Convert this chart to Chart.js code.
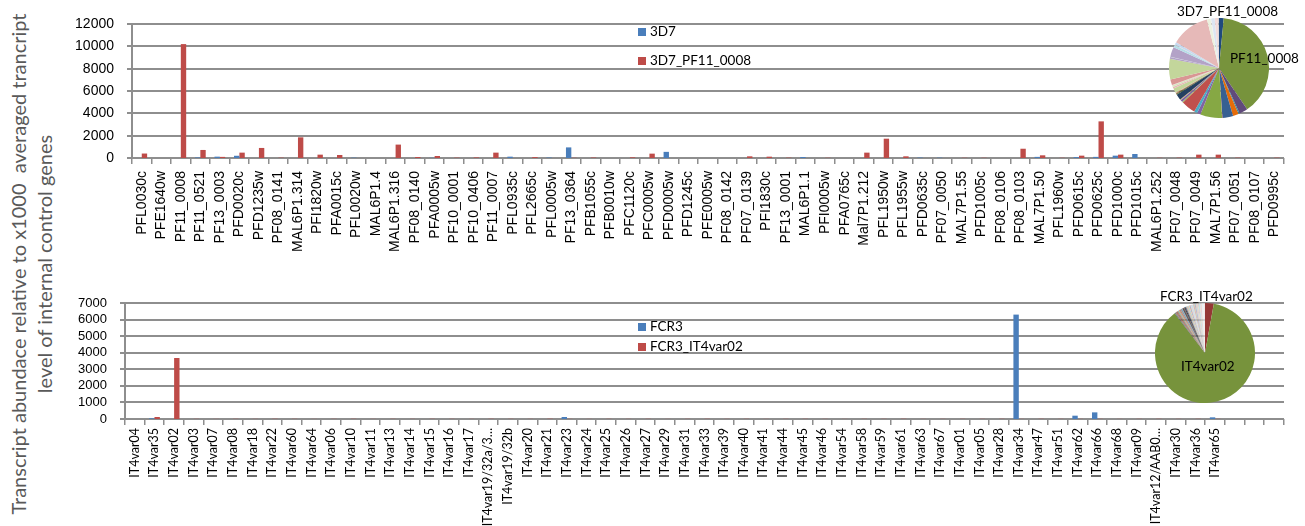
<!DOCTYPE html>
<html>
<head>
<meta charset="utf-8">
<script src="https://cdn.jsdelivr.net/npm/chart.js@4.4.0/dist/chart.umd.min.js"></script>
<style>
  body { margin: 0; background: #fff; width: 1305px; height: 526px; overflow: hidden; position: relative; font-family: Lato, sans-serif; }
  .box { position: absolute; }
  .lg { position: absolute; font: 13.5px Lato, sans-serif; color: #000; white-space: nowrap; line-height: 16px; }
  .lg i { display: inline-block; width: 8px; height: 8px; margin-right: 4px; vertical-align: 0px; }
  .plbl { position: absolute; font: 13.5px Lato, sans-serif; color: #000; white-space: nowrap; }
  #ytitle { position: absolute; left: -237px; top: 236px; width: 540px; height: 56px; transform: rotate(-90deg);
            text-align: center; font: 20px Lato, sans-serif; line-height: 26px; color: #595959; white-space: nowrap; }
</style>
</head>
<body>

<div id="ytitle">Transcript abundace relative to x1000&nbsp; averaged trancript<br>level of internal control genes</div>

<canvas id="topBar" class="box" width="1300" height="262" style="left:0;top:0"></canvas>
<canvas id="botBar" class="box" width="1300" height="264" style="left:0;top:262px"></canvas>
<canvas id="topPie" class="box" width="100" height="100" style="left:1169px;top:18px"></canvas>
<canvas id="botPie" class="box" width="100" height="100" style="left:1155px;top:303px"></canvas>

<div id="legends"></div>

<script>
/* ===========================
   DATA
=========================== */
const topGenes = ["PFL0030c","PFE1640w","PF11_0008","PF11_0521","PF13_0003","PFD0020c","PFD1235w","PF08_0141",
  "MAL6P1.314","PFI1820w","PFA0015c","PFL0020w","MAL6P1.4","MAL6P1.316","PF08_0140","PFA0005w","PF10_0001",
  "PF10_0406","PF11_0007","PFL0935c","PFL2665c","PFL0005w","PF13_0364","PFB1055c","PFB0010w","PFC1120c",
  "PFC0005w","PFD0005w","PFD1245c","PFE0005w","PF08_0142","PF07_0139","PFI1830c","PF13_0001","MAL6P1.1",
  "PFI0005w","PFA0765c","Mal7P1.212","PFL1950w","PFL1955w","PFD0635c","PF07_0050","MAL7P1.55","PFD1005c",
  "PF08_0106","PF08_0103","MAL7P1.50","PFL1960w","PFD0615c","PFD0625c","PFD1000c","PFD1015c","MAL6P1.252",
  "PF07_0048","PF07_0049","MAL7P1.56","PF07_0051","PF08_0107","PFD0995c"];

const top3D7 = [0,0,0,50,120,200,0,0,0,0,0,30,0,0,0,20,0,0,0,120,0,40,950,0,0,0,0,550,0,0,
  0,0,0,0,90,0,0,0,0,0,40,30,0,0,0,0,100,0,80,100,210,360,0,0,0,0,0,0,0];

const top3D7_PF11 = [400,0,10200,720,100,480,900,30,1850,300,270,0,0,1200,90,180,30,50,480,0,
  80,0,20,40,0,60,390,0,0,0,0,150,120,30,0,20,0,480,1730,150,0,0,20,20,0,830,240,20,210,3280,
  300,0,20,30,300,300,30,0,30];

const botGenes = ["IT4var04","IT4var35","IT4var02","IT4var03","IT4var07","IT4var08","IT4var18","IT4var22",
  "IT4var60","IT4var64","IT4var06","IT4var10","IT4var11","IT4var13","IT4var14","IT4var15","IT4var16",
  "IT4var17","IT4var19/32a/3…","IT4var19/32b","IT4var20","IT4var21","IT4var23","IT4var24","IT4var25",
  "IT4var26","IT4var27","IT4var29","IT4var31","IT4var33","IT4var39","IT4var40","IT4var41","IT4var44",
  "IT4var45","IT4var46","IT4var54","IT4var58","IT4var59","IT4var61","IT4var63","IT4var67","IT4var01",
  "IT4var05","IT4var28","IT4var34","IT4var47","IT4var51","IT4var62","IT4var66","IT4var68","IT4var09",
  "IT4var12/AAB0…","IT4var30","IT4var36","IT4var65","","",""];

const botFCR3 = [0,40,0,0,0,0,0,0,0,0,0,0,0,0,0,0,0,0,0,0,0,0,120,0,0,0,0,0,0,0,
  0,0,0,0,0,0,0,0,0,0,0,0,0,0,0,6300,0,0,200,400,0,0,0,0,0,100,0,0,0];

const botFCR3_IT4 = [0,120,3680,8,6,10,7,12,9,5,8,11,6,9,7,10,8,6,12,9,7,15,8,6,9,7,10,5,8,11,
  7,9,6,8,10,7,5,9,8,12,6,7,9,8,10,6,11,8,7,9,6,8,10,7,9,8,0,0,0];

const topSeries = ["3D7", "3D7_PF11_0008"];
const botSeries = ["FCR3", "FCR3_IT4var02"];

/* ===========================
   STYLE
=========================== */
const BLUE = "#4A7EBB";
const RED = "#BE4B48";
const GRID = "#8E8E8E";

const piePalette = [
  "#1F497D","#953735","#77933C","#604A7B","#31859C","#E46C0A",
  "#376092","#C0504D","#86A844","#8064A2","#4BACC6","#F79646",
  "#4F81BD","#C0504D","#9BBB59","#7D60A0","#46AAC5","#F69240",
  "#254061","#632523","#4F6228","#3F3151","#215968","#974806",
  "#95B3D7","#D99694","#C3D69B","#B3A2C7","#93CDDD","#FAC090",
  "#558ED5","#E6B9B8","#D7E4BD","#CCC1DA","#B7DEE8","#FCD5B5",
  "#8EB4E3","#D99694","#C3D69B","#B3A2C7","#93CDDD","#FAC090",
  "#B9CDE5","#E6B9B8","#D7E4BD","#B3A2C7","#B7DEE8","#FCD5B5",
  "#C6D9F1","#E6B9B8","#EBF1DE","#E6E0EC","#DBEEF4","#FDEADA",
  "#DCE6F2","#F2DCDB","#D9D9D9","#CCC1DA","#A6A6A6","#BFBFBF"
];

Chart.defaults.animation = false;

/* ===========================
   GRID / AXES (filled, from the scales)
=========================== */
const axesFill = {
  id: "axesFill",
  beforeDatasetsDraw(chart) {
    const { ctx, chartArea: a, scales: { x, y } } = chart;
    ctx.save();
    ctx.fillStyle = GRID;
    // horizontal grid lines + small ticks left of the axis
    y.ticks.forEach(t => {
      const py = Math.round(y.getPixelForValue(t.value));
      ctx.fillRect(a.left - 5, py - 1, a.right - a.left + 5, 2);
    });
    // y axis line
    ctx.fillRect(Math.round(a.left) - 1, a.top, 2, a.bottom - a.top);
    // x tick marks between categories
    for (let i = 0; i <= x.ticks.length; i++) {
      const px = Math.round(x.getPixelForValue(i - 0.5));
      ctx.fillRect(px - 1, a.bottom, 1.5, 6);
    }
    ctx.restore();
  }
};

/* ===========================
   BAR CHARTS
=========================== */
function barChart(id, labels, names, blue, red, opt) {
  return new Chart(document.getElementById(id), {
    type: "bar",
    data: {
      labels: labels,
      datasets: [
        { label: names[0], data: blue, backgroundColor: BLUE },
        { label: names[1], data: red, backgroundColor: RED }
      ]
    },
    plugins: [axesFill],
    options: {
      responsive: false,
      categoryPercentage: 0.55,
      barPercentage: 1.0,
      layout: { padding: { top: opt.top, right: 16, left: 0, bottom: 0 } },
      plugins: { legend: { display: false }, tooltip: { enabled: false } },
      scales: {
        x: {
          grid: { display: false },
          border: { display: false },
          ticks: { autoSkip: false, maxRotation: 90, minRotation: 90, padding: opt.xPad, color: "#000",
                    font: { family: opt.xFont, size: opt.xSize } },
          afterFit: s => { s.height = opt.xHeight; }
        },
        y: {
          min: 0, max: opt.max,
          ticks: { stepSize: opt.step, autoSkip: false, color: "#000", padding: 10,
                   font: { family: "Liberation Sans", size: opt.ySize },
                   callback: v => String(v) },
          grid: { display: false },
          border: { display: false },
          afterFit: s => { s.width = opt.yWidth; }
        }
      }
    }
  });
}

barChart("topBar", topGenes, topSeries, top3D7, top3D7_PF11,
  { top: 24, max: 12000, step: 2000, xHeight: 104, yWidth: 132, xFont: "Liberation Sans", xSize: 14, xPad: 5, ySize: 14 });
barChart("botBar", botGenes, botSeries, botFCR3, botFCR3_IT4,
  { top: 41, max: 7000, step: 1000, xHeight: 107, yWidth: 125, xFont: "Lato", xSize: 12.5, xPad: 1, ySize: 13 });

/* ===========================
   PIES
=========================== */
function pieChart(id, labels, values) {
  return new Chart(document.getElementById(id), {
    type: "pie",
    data: {
      labels: labels,
      datasets: [{ data: values, backgroundColor: piePalette, borderWidth: 0 }]
    },
    options: {
      responsive: false,
      plugins: { legend: { display: false }, tooltip: { enabled: false } }
    }
  });
}

pieChart("topPie", topGenes, top3D7_PF11);
pieChart("botPie", botGenes, botFCR3_IT4);

/* ===========================
   LEGENDS / LABELS
=========================== */
const legends = document.getElementById("legends");
function addLegend(x, y, name, color) {
  const d = document.createElement("div");
  d.className = "lg";
  d.style.left = x + "px";
  d.style.top = y + "px";
  d.innerHTML = `<i style="background:${color}"></i>${name}`;
  legends.appendChild(d);
}
function addLabel(x, y, text) {
  const d = document.createElement("div");
  d.className = "plbl";
  d.style.left = x + "px";
  d.style.top = y + "px";
  d.textContent = text;
  legends.appendChild(d);
}

addLegend(638, 23, topSeries[0], BLUE);
addLegend(638, 52, topSeries[1], RED);
addLegend(638, 318, botSeries[0], BLUE);
addLegend(638, 338, botSeries[1], RED);

addLabel(1177, 3, topSeries[1]);
addLabel(1230, 50, topGenes[2]);
addLabel(1160, 288, botSeries[1]);
addLabel(1181, 358, botGenes[2]);
</script>
</body>
</html>
